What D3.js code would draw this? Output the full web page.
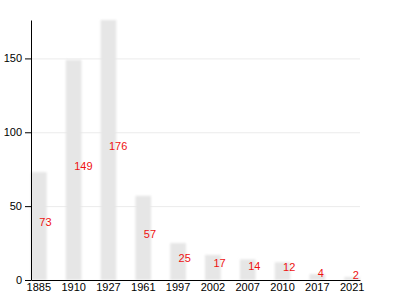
<!DOCTYPE html>
<html><head><meta charset="utf-8">
<script src="https://cdn.jsdelivr.net/npm/d3@7"></script>
<style>body{margin:0;background:#fff}svg{display:block}</style>
</head><body>
<svg id="c" width="400" height="300"></svg>
<script>
const years = ["1885","1910","1927","1961","1997","2002","2007","2010","2017","2021"];
const values = [73,149,176,57,25,17,14,12,4,2];
const yTicks = [0,50,100,150];

const svg = d3.select("#c");
const m = {left:31, right:40, top:20, bottom:20};
const W = 400, H = 300;
const x = d3.scaleBand().domain(years).range([m.left, W - m.right]).paddingInner(0.55).paddingOuter(0);
const y = d3.scaleLinear().domain([0,176]).range([H - m.bottom, m.top]);

const defs = svg.append("defs");
defs.append("filter").attr("id","blur").attr("x","-20%").attr("y","-5%").attr("width","140%").attr("height","110%")
  .append("feGaussianBlur").attr("stdDeviation",0.8);

svg.append("g").selectAll("line").data(yTicks.filter(d=>d>0)).join("line")
  .attr("x1", m.left).attr("x2", W - m.right)
  .attr("y1", d=>y(d)+0.5).attr("y2", d=>y(d)+0.5)
  .attr("stroke","#ebebeb").attr("stroke-width",1);

svg.append("g").attr("filter","url(#blur)").selectAll("rect").data(values).join("rect")
  .attr("x",(d,i)=>x(years[i])).attr("width",x.bandwidth())
  .attr("y",d=>y(d)).attr("height",d=>y(0)-y(d))
  .attr("fill","#e6e6e6");

svg.append("g").selectAll("text").data(values).join("text")
  .attr("x",(d,i)=>x(years[i])+x.bandwidth()/2+0.5)
  .attr("y",d=>(y(d)+y(0))/2)
  .attr("fill","#ee1111").attr("font-family","Liberation Sans, Arial, sans-serif").attr("font-size",11)
  .text(d=>d);

const ya = svg.append("g").attr("transform",`translate(${m.left},0)`)
  .call(d3.axisLeft(y).tickValues(yTicks).tickSize(6).tickPadding(3).tickSizeOuter(0));
const xa = svg.append("g").attr("transform",`translate(0,${H - m.bottom})`)
  .call(d3.axisBottom(x).tickSize(0).tickPadding(3).tickSizeOuter(0));
[ya,xa].forEach(a=>{
  a.selectAll("text").attr("font-family","Liberation Sans, Arial, sans-serif").attr("font-size",11).attr("fill","#000");
  a.selectAll("path,line").attr("stroke","#000");
});
</script>
</body></html>
